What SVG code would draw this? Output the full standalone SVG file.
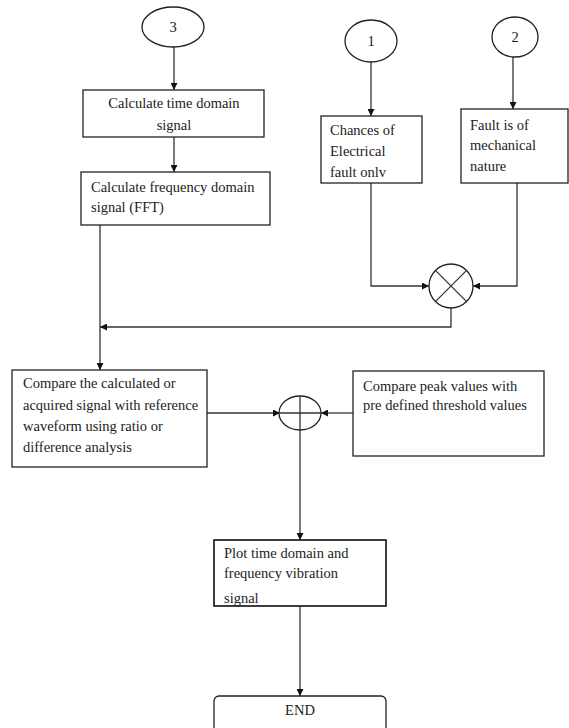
<svg xmlns="http://www.w3.org/2000/svg" width="569" height="728" viewBox="0 0 569 728">
<style>
.b{fill:#fff;stroke:#222;stroke-width:1.3}
.t{font-family:"Liberation Serif",serif;font-size:14.5px;fill:#222}
.c{text-anchor:middle}
.l{fill:none;stroke:#333;stroke-width:1.3}
</style>
<defs>
<marker id="a" viewBox="0 0 10 10" refX="10" refY="5" markerWidth="7" markerHeight="7" orient="auto" markerUnits="userSpaceOnUse"><path d="M0,0L10,5L0,10z" fill="#111"/></marker>
<clipPath id="pc"><rect x="214" y="540" width="172" height="66"/></clipPath>
</defs>
<rect width="569" height="728" fill="#fff"/>
<g id="connectors">
<path class="l" d="M174,47V90" marker-end="url(#a)"/>
<path class="l" d="M174,137V172" marker-end="url(#a)"/>
<path class="l" d="M371,62V116" marker-end="url(#a)"/>
<path class="l" d="M513,57V109" marker-end="url(#a)"/>
<path class="l" d="M371,183V286H429" marker-end="url(#a)"/>
<path class="l" d="M517,183V286H473" marker-end="url(#a)"/>
<path class="l" d="M451,307V327H100" marker-end="url(#a)"/>
<path class="l" d="M100,225V370" marker-end="url(#a)"/>
<path class="l" d="M207,413H280" marker-end="url(#a)"/>
<path class="l" d="M353,413H321" marker-end="url(#a)"/>
<path class="l" d="M300,430V540" marker-end="url(#a)"/>
<path class="l" d="M300,606V696" marker-end="url(#a)"/>
</g>
<g id="n3"><ellipse class="b" cx="173" cy="27" rx="31" ry="20"/><text class="t c" x="173" y="32">3</text></g>
<g id="n1"><ellipse class="b" cx="371" cy="41" rx="26" ry="21"/><text class="t c" x="371" y="46">1</text></g>
<g id="n2"><ellipse class="b" cx="515" cy="37" rx="23" ry="20"/><text class="t c" x="515" y="42">2</text></g>
<g id="time"><rect class="b" x="83" y="90" width="181" height="47"/><text class="t c" x="174" y="108">Calculate time domain</text><text class="t c" x="174" y="130">signal</text></g>
<g id="fft"><rect class="b" x="81" y="172" width="189" height="53"/><text class="t" x="91" y="192">Calculate frequency domain</text><text class="t" x="91" y="212">signal (FFT)</text></g>
<g id="elec"><rect class="b" x="321" y="116" width="101" height="67"/><text class="t" x="330" y="135">Chances of</text><text class="t" x="330" y="156">Electrical</text><text class="t" x="330" y="177">fault onlv</text></g>
<g id="mech"><rect class="b" x="461" y="109" width="107" height="74"/><text class="t" x="470" y="130">Fault is of</text><text class="t" x="470" y="150">mechanical</text><text class="t" x="470" y="171">nature</text></g>
<g id="mult"><circle class="b" cx="451" cy="286" r="22"/><path class="l" d="M435.4,270.4L466.6,301.6M466.6,270.4L435.4,301.6"/></g>
<g id="compare"><rect class="b" x="12" y="370" width="195" height="97"/><text class="t" x="23" y="388">Compare the calculated or</text><text class="t" x="23" y="410">acquired signal with reference</text><text class="t" x="23" y="431">waveform using ratio or</text><text class="t" x="23" y="452">difference analysis</text></g>
<g id="sum"><ellipse class="b" cx="300" cy="413" rx="21" ry="17"/><path class="l" d="M279,413H321M300,396V430"/></g>
<g id="peak"><rect class="b" x="353" y="371" width="191" height="85"/><text class="t" x="363" y="391">Compare peak values with</text><text class="t" x="363" y="410">pre defined threshold values</text></g>
<g id="plot"><rect class="b" x="214" y="540" width="172" height="66"/><g clip-path="url(#pc)"><text class="t" x="224" y="558">Plot time domain and</text><text class="t" x="224" y="578">frequency vibration</text><text class="t" x="224" y="603">signal</text></g><rect x="214" y="540" width="172" height="66" fill="none" stroke="#222" stroke-width="1.3"/></g>
<g id="end"><rect class="b" x="214" y="696" width="172" height="40" rx="5"/><text class="t c" x="300" y="715">END</text></g>
</svg>
